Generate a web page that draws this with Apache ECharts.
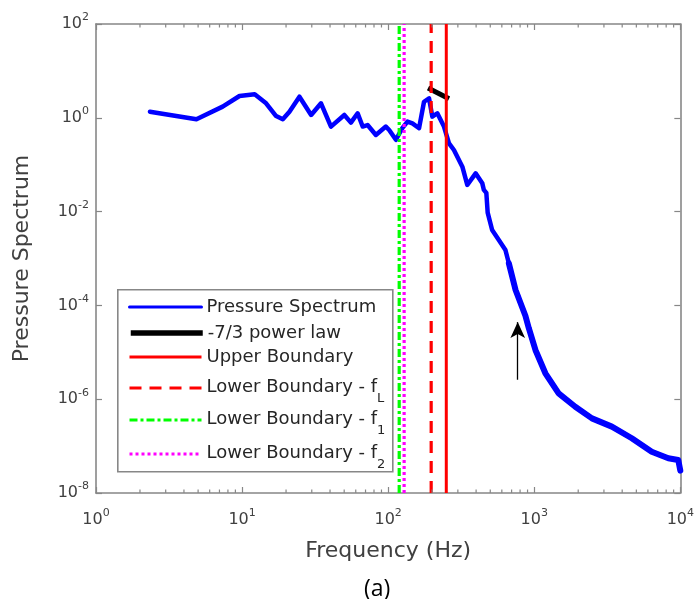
<!DOCTYPE html>
<html>
<head>
<meta charset="utf-8">
<script src="https://cdn.jsdelivr.net/npm/echarts@6/dist/echarts.min.js"></script>
<style>html,body{margin:0;padding:0;background:#fff}#c{width:697px;height:599px}</style>
</head>
<body>
<div id="c"></div>
<script>
// ---- data ----
const freqHz = [2.34, 4.87, 7.36, 9.6, 12.2, 14.6, 17.1, 19.0, 21.1, 24.7, 29.7, 34.7, 40.6, 50.1, 55.6, 61.8, 66.9, 72.3, 82.4, 96.4, 101.6, 113, 125, 135.6, 146.6, 162.8, 176, 190.5, 200.6, 217, 229, 241, 261, 282, 322, 348, 397, 441, 452, 470, 480, 515, 572, 635, 670, 745, 870, 917, 1019, 1192, 1469, 1909, 2484, 3398, 4654, 6370, 8277, 9680, 10000];
const pressurePSD = [1.35, 0.93, 1.73, 2.92, 3.17, 2.04, 1.09, 0.93, 1.35, 2.82, 1.15, 2.04, 0.65, 1.15, 0.79, 1.25, 0.65, 0.70, 0.43, 0.65, 0.55, 0.34, 0.6, 0.83, 0.76, 0.60, 2.2, 2.6, 1.06, 1.25, 0.90, 0.65, 0.286, 0.206, 0.0906, 0.037, 0.0655, 0.040, 0.029, 0.025, 0.0095, 0.00406, 0.00248, 0.00152, 0.00079, 0.000213, 0.00006, 0.000033, 0.0000112, 0.00000357, 0.00000133, 6.9e-7, 3.9e-7, 2.6e-7, 1.47e-7, 7.6e-8, 5.5e-8, 5.06e-8, 3.0e-8];
const noisyFromHz = 670;
const powerLawF = [187.5, 261];
const powerLawP = [4.3, 2.55];
const upperBoundary = 250;
const lowerBoundaryFL = 197;
const lowerBoundaryF1 = 119;
const lowerBoundaryF2 = 128.6;
const arrowF = 771;
const arrowP = [2.6e-6, 4.4e-5];
const xRange = [1, 10000];
const yRange = [1e-8, 100];
const minorMantissas = [2, 3, 4, 5, 6, 7, 8, 9];
const decades = [1, 10, 100, 1000];
const legendNames = ['Pressure Spectrum', '-7/3 power law', 'Upper Boundary', 'Lower Boundary - f_L', 'Lower Boundary - f_1', 'Lower Boundary - f_2'];

const xMinor = [];
decades.forEach(d => minorMantissas.forEach(m => xMinor.push(d * m)));

const FONT = "'DejaVu Sans', Verdana, sans-serif";
const AXIS_COLOR = '#878787';
const TEXT_COLOR = '#404040';

function supLabel(v) {
  const e = Math.round(Math.log10(v));
  return '{b|10}{s|' + e + '}';
}
const supRich = {
  b: { fontSize: 16, lineHeight: 24, color: TEXT_COLOR, fontFamily: FONT },
  s: { fontSize: 11, lineHeight: 11, verticalAlign: 'top', color: TEXT_COLOR, fontFamily: FONT }
};

function vline(name, x, color, type, width) {
  return {
    name: name, type: 'line', symbol: 'none', silent: true,
    data: [[x, yRange[0]], [x, yRange[1]]],
    itemStyle: { color: color },
    lineStyle: { color: color, type: type, width: width }
  };
}

const chart = echarts.init(document.getElementById('c'), null, { renderer: 'canvas' });

const legendRows = [305, 331, 355, 385, 417, 451];
const legendWidths = [3, 5.5, 3, 3, 3, 3];
const legendRich = {
  n: { fontSize: 18, lineHeight: 20, verticalAlign: 'top', color: '#262626', fontFamily: FONT },
  m: { fontSize: 18, lineHeight: 20, color: '#262626', fontFamily: FONT },
  sub: { fontSize: 13, lineHeight: 13, padding: [14, 0, 3, 0], verticalAlign: 'top', color: '#262626', fontFamily: FONT }
};
const legends = legendNames.map((nm, i) => ({
  data: [nm], orient: 'vertical', left: 128, top: legendRows[i] - 7,
  itemWidth: 72, itemHeight: 14, itemGap: 0, padding: 0, selectedMode: false,
  lineStyle: { width: legendWidths[i] },
  itemStyle: { opacity: 0 },
  textStyle: { rich: legendRich },
  formatter: function (name) {
    const m = name.match(/^(.*)_(\w)$/);
    if (m) return '{n|' + m[1] + '}{sub|' + m[2] + '}';
    return '{m|' + name + '}';
  }
}));

const option = {
  animation: false,
  backgroundColor: '#fff',
  title: {
    text: '(a)', left: 359, top: 573,
    textStyle: { fontFamily: "'Open Sans', Lato, sans-serif", fontSize: 23, fontWeight: 'normal', color: '#000' }
  },
  grid: { left: 96, right: 15, top: 24, bottom: 106, containLabel: false },
  legend: legends,
  graphic: [{
    type: 'rect', left: 117, top: 289, z: 10, silent: true,
    shape: { width: 275, height: 182 },
    style: { fill: 'rgba(255,255,255,0)', stroke: AXIS_COLOR, lineWidth: 1.6 }
  }],
  xAxis: [{
    type: 'log', logBase: 10, min: xRange[0], max: xRange[1], interval: 1,
    name: 'Frequency (Hz)', nameLocation: 'middle', nameGap: 47,
    nameTextStyle: { fontSize: 22, color: TEXT_COLOR, fontFamily: FONT },
    axisLine: { show: true, lineStyle: { color: AXIS_COLOR, width: 1.6 } },
    axisTick: { show: true, inside: true, length: 6, lineStyle: { color: AXIS_COLOR, width: 1.2 } },
    axisLabel: { formatter: supLabel, rich: supRich, margin: 15 },
    splitLine: { show: false }
  }, {
    type: 'log', logBase: 10, min: xRange[0], max: xRange[1], interval: 1, position: 'top',
    axisLine: { show: true, lineStyle: { color: AXIS_COLOR, width: 1.6 } },
    axisTick: { show: true, inside: true, length: 6, lineStyle: { color: AXIS_COLOR, width: 1.2 } },
    axisLabel: { show: false }, splitLine: { show: false }
  }],
  yAxis: [{
    type: 'log', logBase: 10, min: yRange[0], max: yRange[1], interval: 2,
    name: 'Pressure Spectrum', nameLocation: 'middle', nameGap: 63,
    nameTextStyle: { fontSize: 22, color: TEXT_COLOR, fontFamily: FONT },
    axisLine: { show: true, lineStyle: { color: AXIS_COLOR, width: 1.6 } },
    axisTick: { show: true, inside: true, length: 6, lineStyle: { color: AXIS_COLOR, width: 1.2 } },
    axisLabel: { formatter: supLabel, rich: supRich, margin: 7 },
    splitLine: { show: false }
  }, {
    type: 'log', logBase: 10, min: yRange[0], max: yRange[1], interval: 2, position: 'right',
    axisLine: { show: true, lineStyle: { color: AXIS_COLOR, width: 1.6 } },
    axisTick: { show: true, inside: true, length: 6, lineStyle: { color: AXIS_COLOR, width: 1.2 } },
    axisLabel: { show: false }, splitLine: { show: false }
  }],
  series: [
    {
      name: 'Pressure Spectrum', type: 'line', symbol: 'none', silent: true,
      data: freqHz.map((f, i) => [f, pressurePSD[i]]),
      itemStyle: { color: '#0000ff' },
      lineStyle: { color: '#0000ff', width: 4.5, join: 'round', cap: 'round' }, z: 2
    },
    {
      name: 'noisyBand', type: 'line', symbol: 'none', silent: true,
      data: freqHz.map((f, i) => [f, pressurePSD[i]]).filter(p => p[0] >= noisyFromHz),
      lineStyle: { color: '#0000ff', width: 6, join: 'round', cap: 'round' }, z: 2
    },
    {
      name: '-7/3 power law', type: 'line', symbol: 'none', silent: true,
      data: powerLawF.map((f, i) => [f, powerLawP[i]]),
      itemStyle: { color: '#000' },
      lineStyle: { color: '#000', width: 5 }, z: 3
    },
    vline('Upper Boundary', upperBoundary, '#ff0000', 'solid', 3),
    vline('Lower Boundary - f_L', lowerBoundaryFL, '#ff0000', [12, 8], 3.2),
    vline('Lower Boundary - f_1', lowerBoundaryF1, '#00ff00', [8, 3, 3, 3], 3.2),
    vline('Lower Boundary - f_2', lowerBoundaryF2, '#ff00ff', [3, 3], 3.2),
    {
      name: 'arrow', type: 'line', symbol: 'none', silent: true, data: [],
      markLine: {
        silent: true, symbol: ['none', 'arrow'], symbolSize: [11, 16],
        label: { show: false },
        lineStyle: { color: '#000', type: 'solid', width: 1.3 },
        data: [[{ coord: [arrowF, arrowP[0]] }, { coord: [arrowF, arrowP[1]] }]]
      }
    },
    {
      name: 'minorTicks', type: 'custom', silent: true, z: 5,
      data: xMinor.map(v => [v, yRange[0]]),
      renderItem: function (params, api) {
        const v = api.value(0);
        const b = api.coord([v, yRange[0]]);
        const t = api.coord([v, yRange[1]]);
        const st = { stroke: AXIS_COLOR, lineWidth: 1.2 };
        return {
          type: 'group', children: [
            { type: 'line', shape: { x1: b[0], y1: b[1], x2: b[0], y2: b[1] - 3.5 }, style: st },
            { type: 'line', shape: { x1: t[0], y1: t[1], x2: t[0], y2: t[1] + 3.5 }, style: st }
          ]
        };
      }
    }
  ]
};
chart.setOption(option);
</script>
</body>
</html>
